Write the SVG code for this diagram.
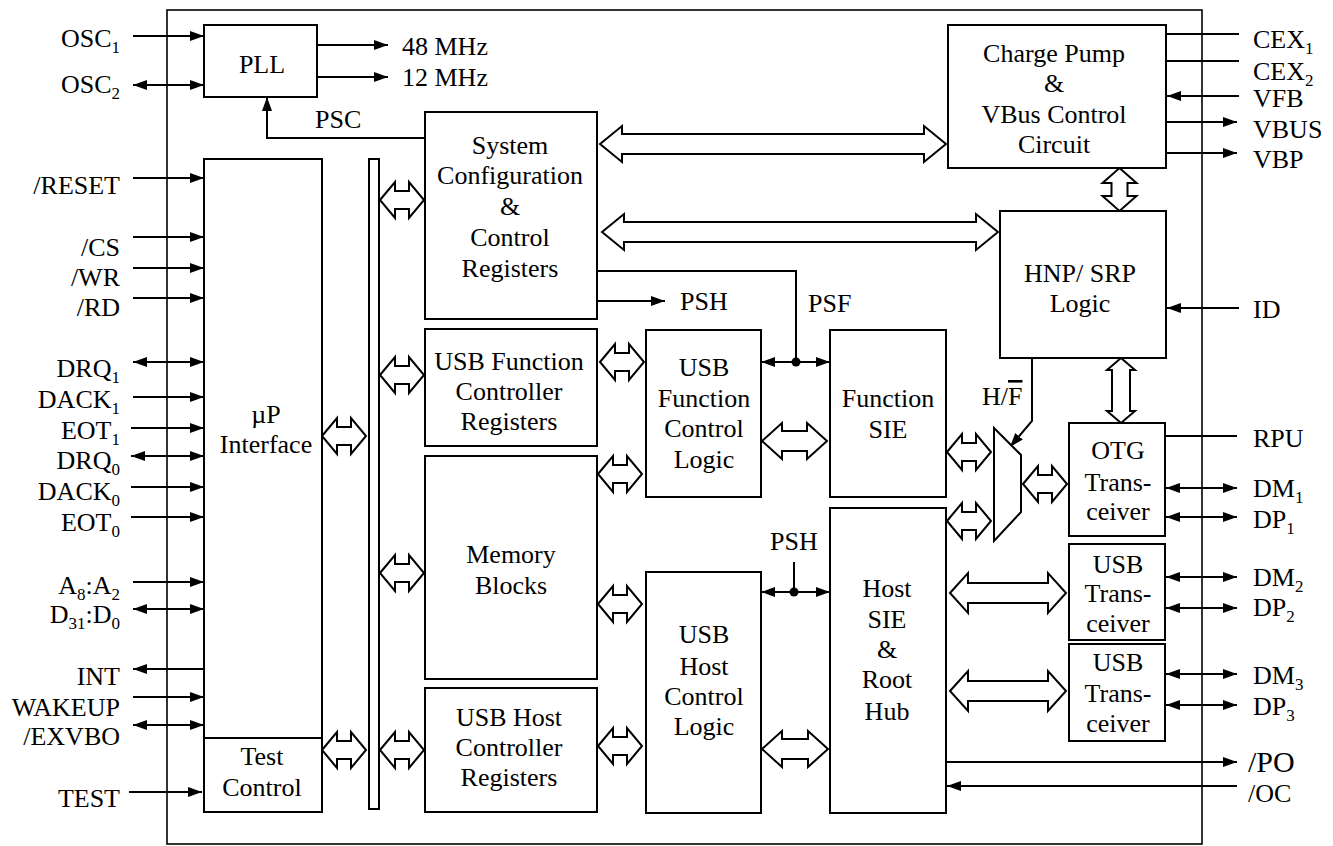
<svg xmlns="http://www.w3.org/2000/svg" width="1333" height="846" viewBox="0 0 1333 846" font-size="26" font-family="Liberation Serif">
<defs>
<marker id="ah" markerUnits="userSpaceOnUse" markerWidth="14" markerHeight="10" refX="14" refY="5" orient="auto-start-reverse"><path d="M0,0 L14,5 L0,10 Z" fill="#000"/></marker>
<path id="dab" d="M0 0 L15 -18 V-9 H29 V-18 L44 0 L29 18 V9 H15 V18 Z"/>
</defs>
<style>
.m{text-anchor:middle}
.e{text-anchor:end}
.sub{font-size:17px}
.box{fill:#fff;stroke:#000;stroke-width:2}
.ln{fill:none;stroke:#000;stroke-width:2}
.in{fill:none;stroke:#000;stroke-width:2;marker-end:url(#ah)}
.bi{fill:none;stroke:#000;stroke-width:2;marker-start:url(#ah);marker-end:url(#ah)}
.ba{fill:#fff;stroke:#000;stroke-width:2}
</style>
<rect width="1333" height="846" fill="#fff"/>
<rect x="167" y="10" width="1035" height="834" fill="none" stroke="#000" stroke-width="1.6"/>

<g id="connectors">
<line class="in" x1="133" y1="36" x2="204" y2="36"/>
<line class="bi" x1="133" y1="85" x2="204" y2="85"/>
<line class="in" x1="133" y1="178" x2="204" y2="178"/>
<line class="in" x1="133" y1="237" x2="204" y2="237"/>
<line class="in" x1="133" y1="268" x2="204" y2="268"/>
<line class="in" x1="133" y1="298" x2="204" y2="298"/>
<line class="bi" x1="133" y1="362" x2="204" y2="362"/>
<line class="in" x1="133" y1="397" x2="204" y2="397"/>
<line class="in" x1="131" y1="428" x2="204" y2="428"/>
<line class="bi" x1="131" y1="456" x2="204" y2="456"/>
<line class="in" x1="131" y1="487" x2="204" y2="487"/>
<line class="in" x1="131" y1="517" x2="204" y2="517"/>
<line class="in" x1="133" y1="582" x2="204" y2="582"/>
<line class="bi" x1="133" y1="609" x2="204" y2="609"/>
<line class="in" x1="204" y1="669" x2="133" y2="669"/>
<line class="in" x1="133" y1="697" x2="204" y2="697"/>
<line class="bi" x1="133" y1="725" x2="204" y2="725"/>
<line class="in" x1="129" y1="792" x2="202" y2="792"/>
<line class="in" x1="317" y1="45" x2="388" y2="45"/>
<line class="in" x1="317" y1="77" x2="388" y2="77"/>
<path class="in" d="M425 138 H267 V97"/>
<line class="in" x1="597" y1="301" x2="665" y2="301"/>
<path class="ln" d="M597 271 H796 V362"/>
<line class="bi" x1="761" y1="362" x2="830" y2="362"/>
<path d="M791.5 362 a4.5 4.5 0 1 0 9 0 a4.5 4.5 0 1 0 -9 0 Z" fill="#000"/>
<line class="ln" x1="794" y1="562" x2="794" y2="592"/>
<line class="bi" x1="761" y1="592" x2="830" y2="592"/>
<path d="M789.5 592 a4.5 4.5 0 1 0 9 0 a4.5 4.5 0 1 0 -9 0 Z" fill="#000"/>
<path class="in" d="M1032 358 V421 L1010 447"/>
<line class="ln" x1="1166" y1="34" x2="1239" y2="34"/>
<line class="ln" x1="1166" y1="61" x2="1239" y2="61"/>
<line class="in" x1="1239" y1="96" x2="1167" y2="96"/>
<line class="in" x1="1166" y1="122" x2="1237" y2="122"/>
<line class="in" x1="1166" y1="153" x2="1237" y2="153"/>
<line class="in" x1="1239" y1="308" x2="1167" y2="308"/>
<line class="ln" x1="1165" y1="436" x2="1237" y2="436"/>
<line class="bi" x1="1166" y1="488" x2="1237" y2="488"/>
<line class="bi" x1="1166" y1="517" x2="1237" y2="517"/>
<line class="bi" x1="1166" y1="577" x2="1237" y2="577"/>
<line class="bi" x1="1166" y1="608" x2="1237" y2="608"/>
<line class="bi" x1="1166" y1="674" x2="1237" y2="674"/>
<line class="bi" x1="1166" y1="705" x2="1237" y2="705"/>
<line class="in" x1="946" y1="762" x2="1237" y2="762"/>
<line class="in" x1="1237" y1="786" x2="947" y2="786"/>
<use href="#dab" class="ba" x="380" y="200"/>
<use href="#dab" class="ba" x="380" y="375"/>
<use href="#dab" class="ba" x="380" y="573"/>
<use href="#dab" class="ba" x="380" y="750"/>
<use href="#dab" class="ba" x="322" y="436"/>
<use href="#dab" class="ba" x="322" y="750"/>
<use href="#dab" class="ba" x="600" y="362"/>
<use href="#dab" class="ba" x="598" y="474"/>
<use href="#dab" class="ba" x="598" y="604"/>
<use href="#dab" class="ba" x="598" y="746"/>
<use href="#dab" class="ba" x="947" y="452"/>
<use href="#dab" class="ba" x="947" y="521"/>
<use href="#dab" class="ba" x="1023" y="484"/>
<path class="ba" d="M762 441 L782 423 V431 H807 V423 L827 441 L807 459 V451 H782 V459 Z"/>
<path class="ba" d="M762 749 L782 731 V739 H808 V731 L828 749 L808 767 V759 H782 V767 Z"/>
<path class="ba" d="M600 144 L622 126 V134 H924 V126 L946 144 L924 162 V154 H622 V162 Z"/>
<path class="ba" d="M602 232 L624 214 V222 H976 V214 L998 232 L976 250 V242 H624 V250 Z"/>
<path class="ba" d="M950 593 L968 573 V583 H1048 V573 L1066 593 L1048 613 V603 H968 V613 Z"/>
<path class="ba" d="M950 691 L968 671 V681 H1048 V671 L1066 691 L1048 711 V701 H968 V711 Z"/>
<path class="ba" d="M1119.5 168 L1136.5 183 H1127.5 V196 H1136.5 L1119.5 211 L1102.5 196 H1111.5 V183 H1102.5 Z"/>
<path class="ba" d="M1121 358 L1135 370 H1130 V411 H1135 L1121 423 L1107 411 H1112 V370 H1107 Z"/>
</g>

<g id="pin-labels">
<text style="font-family:'Liberation Serif',serif" class="e" x="120" y="47">OSC<tspan class="sub" dy="6">1</tspan></text>
<text style="font-family:'Liberation Serif',serif" class="e" x="120" y="93">OSC<tspan class="sub" dy="6">2</tspan></text>
<text style="font-family:'Liberation Serif',serif" class="e" x="120" y="194">/RESET</text>
<text style="font-family:'Liberation Serif',serif" class="e" x="120" y="256">/CS</text>
<text style="font-family:'Liberation Serif',serif" class="e" x="120" y="286">/WR</text>
<text style="font-family:'Liberation Serif',serif" class="e" x="120" y="316">/RD</text>
<text style="font-family:'Liberation Serif',serif" class="e" x="120" y="377">DRQ<tspan class="sub" dy="6">1</tspan></text>
<text style="font-family:'Liberation Serif',serif" class="e" x="120" y="408">DACK<tspan class="sub" dy="6">1</tspan></text>
<text style="font-family:'Liberation Serif',serif" class="e" x="120" y="439">EOT<tspan class="sub" dy="6">1</tspan></text>
<text style="font-family:'Liberation Serif',serif" class="e" x="120" y="469">DRQ<tspan class="sub" dy="6">0</tspan></text>
<text style="font-family:'Liberation Serif',serif" class="e" x="120" y="500">DACK<tspan class="sub" dy="6">0</tspan></text>
<text style="font-family:'Liberation Serif',serif" class="e" x="120" y="531">EOT<tspan class="sub" dy="6">0</tspan></text>
<text style="font-family:'Liberation Serif',serif" class="e" x="120" y="594">A<tspan class="sub" dy="6">8</tspan><tspan dy="-6">:A</tspan><tspan class="sub" dy="6">2</tspan></text>
<text style="font-family:'Liberation Serif',serif" class="e" x="120" y="623">D<tspan class="sub" dy="6">31</tspan><tspan dy="-6">:D</tspan><tspan class="sub" dy="6">0</tspan></text>
<text style="font-family:'Liberation Serif',serif" class="e" x="120" y="685">INT</text>
<text style="font-family:'Liberation Serif',serif" class="e" x="120" y="716">WAKEUP</text>
<text style="font-family:'Liberation Serif',serif" class="e" x="120" y="745">/EXVBO</text>
<text style="font-family:'Liberation Serif',serif" class="e" x="120" y="807">TEST</text>
<text style="font-family:'Liberation Serif',serif" x="1253" y="48">CEX<tspan class="sub" dy="6">1</tspan></text>
<text style="font-family:'Liberation Serif',serif" x="1253" y="80">CEX<tspan class="sub" dy="6">2</tspan></text>
<text style="font-family:'Liberation Serif',serif" x="1253" y="107">VFB</text>
<text style="font-family:'Liberation Serif',serif" x="1253" y="138">VBUS</text>
<text style="font-family:'Liberation Serif',serif" x="1253" y="168">VBP</text>
<text style="font-family:'Liberation Serif',serif" x="1253" y="318">ID</text>
<text style="font-family:'Liberation Serif',serif" x="1253" y="447">RPU</text>
<text style="font-family:'Liberation Serif',serif" x="1253" y="497">DM<tspan class="sub" dy="6">1</tspan></text>
<text style="font-family:'Liberation Serif',serif" x="1253" y="528">DP<tspan class="sub" dy="6">1</tspan></text>
<text style="font-family:'Liberation Serif',serif" x="1253" y="586">DM<tspan class="sub" dy="6">2</tspan></text>
<text style="font-family:'Liberation Serif',serif" x="1253" y="616">DP<tspan class="sub" dy="6">2</tspan></text>
<text style="font-family:'Liberation Serif',serif" x="1253" y="684">DM<tspan class="sub" dy="6">3</tspan></text>
<text style="font-family:'Liberation Serif',serif" x="1253" y="715">DP<tspan class="sub" dy="6">3</tspan></text>
<text style="font-family:'Liberation Serif',serif;font-size:30px" x="1248" y="772">/PO</text>
<text style="font-family:'Liberation Serif',serif" x="1248" y="802">/OC</text>
<text style="font-family:'Liberation Serif',serif" x="402" y="55">48 MHz</text>
<text style="font-family:'Liberation Serif',serif" x="402" y="86">12 MHz</text>
<text style="font-family:'Liberation Serif',serif" x="315" y="128">PSC</text>
<text style="font-family:'Liberation Serif',serif" x="680" y="310">PSH</text>
<text style="font-family:'Liberation Serif',serif" x="808" y="312">PSF</text>
<text style="font-family:'Liberation Serif',serif" x="770" y="550">PSH</text>
<text style="font-family:'Liberation Serif',serif" x="982" y="405">H/<tspan text-decoration="overline">F</tspan></text>
</g>

<g id="pll"><rect class="box" x="204" y="25" width="113" height="72"/><text style="font-family:'Liberation Serif',serif" class="m" x="262" y="73">PLL</text></g>
<g id="up-interface"><rect class="box" x="204" y="159" width="118" height="579"/><text style="font-family:'Liberation Serif',serif" class="m" x="266" y="423">µP</text><text style="font-family:'Liberation Serif',serif" class="m" x="266" y="453">Interface</text></g>
<g id="test-control"><rect class="box" x="204" y="738" width="118" height="74"/><text style="font-family:'Liberation Serif',serif" class="m" x="262" y="765">Test</text><text style="font-family:'Liberation Serif',serif" class="m" x="262" y="796">Control</text></g>
<g id="bus"><rect class="box" x="369" y="159" width="10" height="650"/></g>
<g id="sys-config"><rect class="box" x="425" y="112" width="172" height="207"/>
<text style="font-family:'Liberation Serif',serif" class="m" x="510" y="154">System</text><text style="font-family:'Liberation Serif',serif" class="m" x="510" y="184">Configuration</text><text style="font-family:'Liberation Serif',serif" class="m" x="510" y="215">&amp;</text><text style="font-family:'Liberation Serif',serif" class="m" x="510" y="246">Control</text><text style="font-family:'Liberation Serif',serif" class="m" x="510" y="277">Registers</text></g>
<g id="usb-func-reg"><rect class="box" x="425" y="329" width="172" height="117"/>
<text style="font-family:'Liberation Serif',serif" class="m" x="509" y="370">USB Function</text><text style="font-family:'Liberation Serif',serif" class="m" x="509" y="400">Controller</text><text style="font-family:'Liberation Serif',serif" class="m" x="509" y="430">Registers</text></g>
<g id="memory"><rect class="box" x="425" y="456" width="172" height="223"/>
<text style="font-family:'Liberation Serif',serif" class="m" x="511" y="563">Memory</text><text style="font-family:'Liberation Serif',serif" class="m" x="511" y="594">Blocks</text></g>
<g id="usb-host-reg"><rect class="box" x="425" y="688" width="172" height="124"/>
<text style="font-family:'Liberation Serif',serif" class="m" x="509" y="726">USB Host</text><text style="font-family:'Liberation Serif',serif" class="m" x="509" y="756">Controller</text><text style="font-family:'Liberation Serif',serif" class="m" x="509" y="786">Registers</text></g>
<g id="usb-func-ctrl"><rect class="box" x="646" y="330" width="115" height="167"/>
<text style="font-family:'Liberation Serif',serif" class="m" x="704" y="376">USB</text><text style="font-family:'Liberation Serif',serif" class="m" x="704" y="407">Function</text><text style="font-family:'Liberation Serif',serif" class="m" x="704" y="437">Control</text><text style="font-family:'Liberation Serif',serif" class="m" x="704" y="468">Logic</text></g>
<g id="usb-host-ctrl"><rect class="box" x="646" y="572" width="115" height="241"/>
<text style="font-family:'Liberation Serif',serif" class="m" x="704" y="643">USB</text><text style="font-family:'Liberation Serif',serif" class="m" x="704" y="675">Host</text><text style="font-family:'Liberation Serif',serif" class="m" x="704" y="705">Control</text><text style="font-family:'Liberation Serif',serif" class="m" x="704" y="735">Logic</text></g>
<g id="function-sie"><rect class="box" x="830" y="330" width="116" height="167"/>
<text style="font-family:'Liberation Serif',serif" class="m" x="888" y="407">Function</text><text style="font-family:'Liberation Serif',serif" class="m" x="888" y="438">SIE</text></g>
<g id="host-sie"><rect class="box" x="830" y="508" width="116" height="305"/>
<text style="font-family:'Liberation Serif',serif" class="m" x="887" y="597">Host</text><text style="font-family:'Liberation Serif',serif" class="m" x="887" y="628">SIE</text><text style="font-family:'Liberation Serif',serif" class="m" x="887" y="658">&amp;</text><text style="font-family:'Liberation Serif',serif" class="m" x="887" y="688">Root</text><text style="font-family:'Liberation Serif',serif" class="m" x="887" y="720">Hub</text></g>
<g id="charge-pump"><rect class="box" x="948" y="25" width="218" height="143"/>
<text style="font-family:'Liberation Serif',serif" class="m" x="1054" y="62">Charge Pump</text><text style="font-family:'Liberation Serif',serif" class="m" x="1054" y="92">&amp;</text><text style="font-family:'Liberation Serif',serif" class="m" x="1054" y="123">VBus Control</text><text style="font-family:'Liberation Serif',serif" class="m" x="1054" y="153">Circuit</text></g>
<g id="hnp-srp"><rect class="box" x="1000" y="211" width="166" height="147"/>
<text style="font-family:'Liberation Serif',serif" class="m" x="1080" y="282">HNP/ SRP</text><text style="font-family:'Liberation Serif',serif" class="m" x="1080" y="312">Logic</text></g>
<g id="mux"><path class="box" d="M994 428 L1021 455 V512 L994 541 Z"/></g>
<g id="otg-trans"><rect class="box" x="1069" y="423" width="96" height="113"/>
<text style="font-family:'Liberation Serif',serif" class="m" x="1118" y="459">OTG</text><text style="font-family:'Liberation Serif',serif" class="m" x="1118" y="491">Trans-</text><text style="font-family:'Liberation Serif',serif" class="m" x="1118" y="520">ceiver</text></g>
<g id="usb-trans-1"><rect class="box" x="1069" y="544" width="96" height="96"/>
<text style="font-family:'Liberation Serif',serif" class="m" x="1118" y="573">USB</text><text style="font-family:'Liberation Serif',serif" class="m" x="1118" y="602">Trans-</text><text style="font-family:'Liberation Serif',serif" class="m" x="1118" y="632">ceiver</text></g>
<g id="usb-trans-2"><rect class="box" x="1069" y="644" width="96" height="97"/>
<text style="font-family:'Liberation Serif',serif" class="m" x="1118" y="671">USB</text><text style="font-family:'Liberation Serif',serif" class="m" x="1118" y="702">Trans-</text><text style="font-family:'Liberation Serif',serif" class="m" x="1118" y="732">ceiver</text></g>
</svg>
